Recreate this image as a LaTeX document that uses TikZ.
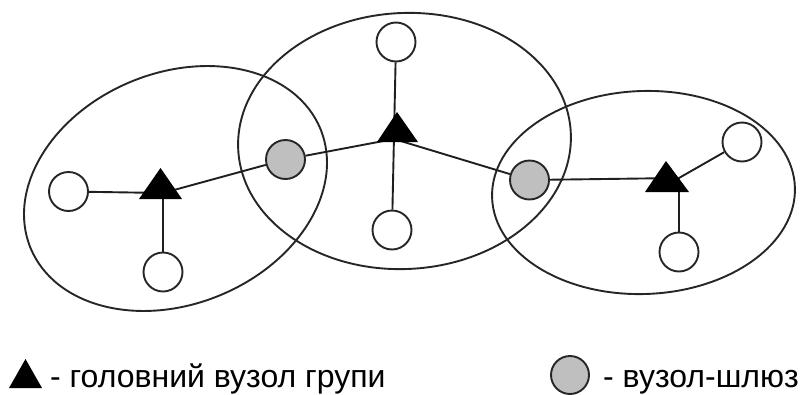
\documentclass[tikz,border=0pt]{standalone}
\usepackage{fontspec}
\setmainfont{Liberation Sans}
\begin{document}
\begin{tikzpicture}[x=1pt,y=-1pt,
  group/.style={line width=1.9pt, draw=black!85},
  link/.style={line width=1.9pt, draw=black!88},
  member/.style={circle, draw=black!85, fill=white, line width=1.9pt, minimum size=39pt, inner sep=0pt},
  gate/.style={circle, draw=black!85, fill=black!25, line width=1.9pt, minimum size=39pt, inner sep=0pt},
  head/.style={fill=black, draw=none},
  legend/.style={anchor=base west, inner sep=0pt, font=\fontsize{32}{38}\selectfont}]
\useasboundingbox (0,0) rectangle (803,394);

% group boundaries
\draw[group, rotate around={22.3:(175.5,188.5)}] (175.5,188.5) ellipse [x radius=156.7pt, y radius=115.7pt];
\draw[group, rotate around={3:(404.5,141)}] (404.5,141) ellipse [x radius=166.5pt, y radius=128pt];
\draw[group, rotate around={2:(643.5,192.5)}] (643.5,192.5) ellipse [x radius=151.5pt, y radius=101.5pt];

% hubs of head nodes
\coordinate (hL) at (163,193);
\coordinate (hM) at (394,139);
\coordinate (hR) at (679,178);

% nodes
\node[member] (c1) at (68.5,191.5) {};
\node[member] (c2) at (163,272) {};
\node[member] (c3) at (396,42) {};
\node[member] (c4) at (392,230) {};
\node[member] (c5) at (742,142) {};
\node[member] (c6) at (679,252) {};
\node[gate] (g1) at (285.5,159.5) {};
\node[gate] (g2) at (529.5,180) {};

% connectors
\draw[link] (c1) -- (hL);
\draw[link] (hL) -- (c2);
\draw[link] (hL) -- (g1);
\draw[link] (g1) -- (hM);
\draw[link] (c3) -- (c4);
\draw[link] (hM) -- (g2);
\draw[link] (g2) -- (hR);
\draw[link] (hR) -- (c5);
\draw[link] (hR) -- (c6);

% head nodes (triangles)
\fill[head] (160.5,168) -- (182,199) -- (139,199) -- cycle;
\fill[head] (397,112) -- (418,142) -- (377,142) -- cycle;
\fill[head] (666,161) -- (689,192) -- (645,192) -- cycle;

% legend
\fill[head] (25.5,359) -- (42,388) -- (9,388) -- cycle;
\node[legend] (t1) at (50,387) {- головний вузол групи};
\node[gate, minimum size=38pt] (lg) at (570,375) {};
\node[legend] (t2) at (603,387) {- вузол-шлюз};
\end{tikzpicture}
\end{document}
